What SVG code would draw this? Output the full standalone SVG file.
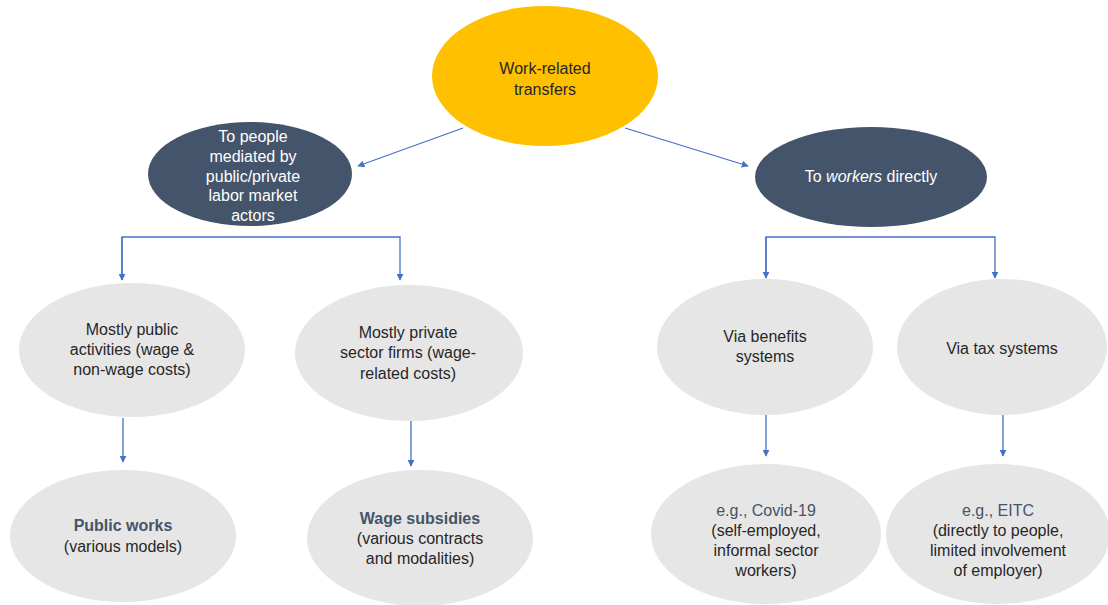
<svg xmlns="http://www.w3.org/2000/svg" width="1108" height="605" viewBox="0 0 1108 605">
<style>
.t{font-family:"Liberation Sans",Arial,sans-serif;font-size:16px;text-anchor:middle;fill:#262626}
.w{fill:#ffffff}
.b{font-weight:bold;fill:#44546A}
.s{fill:#44546A}
.g{fill:#E7E6E6}
.d{fill:#44546A}
.c{stroke:#4472C4;stroke-width:1.3;fill:none}
</style>
<defs>
<marker id="ah" viewBox="0 0 10 10" refX="9" refY="5" markerWidth="7" markerHeight="7" markerUnits="userSpaceOnUse" orient="auto">
<path d="M0,0 L10,5 L0,10 z" fill="#4472C4"/>
</marker>
</defs>
<rect width="1108" height="605" fill="#ffffff"/>
<g id="connectors">
<path class="c" d="M463,128 L358,166" marker-end="url(#ah)"/>
<path class="c" d="M625,128 L748,166" marker-end="url(#ah)"/>
<path class="c" d="M122,280 L122,237 L400,237 L400,280" marker-end="url(#ah)"/>
<path class="c" d="M122,237 L122,280" marker-end="url(#ah)"/>
<path class="c" d="M766,278 L766,237 L995,237 L995,278" marker-end="url(#ah)"/>
<path class="c" d="M766,237 L766,278" marker-end="url(#ah)"/>
<path class="c" d="M123,418 L123,462" marker-end="url(#ah)"/>
<path class="c" d="M411,421 L411,466" marker-end="url(#ah)"/>
<path class="c" d="M766,415 L766,456" marker-end="url(#ah)"/>
<path class="c" d="M1003,415 L1003,456" marker-end="url(#ah)"/>
</g>
<g id="root">
<ellipse cx="545" cy="76" rx="113" ry="70" fill="#FFC000"/>
<text class="t" x="545" y="74">Work-related</text>
<text class="t" x="545" y="95">transfers</text>
</g>
<g id="mediated">
<ellipse class="d" cx="250" cy="174" rx="102" ry="52"/>
<text class="t w" x="253" y="142">To people</text>
<text class="t w" x="253" y="162">mediated by</text>
<text class="t w" x="253" y="182">public/private</text>
<text class="t w" x="253" y="201">labor market</text>
<text class="t w" x="253" y="221">actors</text>
</g>
<g id="direct">
<ellipse class="d" cx="871" cy="177" rx="116" ry="50"/>
<text class="t w" x="871" y="182">To <tspan font-style="italic">workers</tspan> directly</text>
</g>
<g id="public">
<ellipse class="g" cx="132" cy="350" rx="113" ry="67"/>
<text class="t" x="132" y="335">Mostly public</text>
<text class="t" x="132" y="355">activities (wage &amp;</text>
<text class="t" x="132" y="375">non-wage costs)</text>
</g>
<g id="private">
<ellipse class="g" cx="409" cy="353" rx="114" ry="68"/>
<text class="t" x="408" y="338">Mostly private</text>
<text class="t" x="408" y="358">sector firms (wage-</text>
<text class="t" x="408" y="379">related costs)</text>
</g>
<g id="benefits">
<ellipse class="g" cx="765" cy="347" rx="108" ry="68"/>
<text class="t" x="765" y="342">Via benefits</text>
<text class="t" x="765" y="362">systems</text>
</g>
<g id="tax">
<ellipse class="g" cx="1002" cy="347" rx="105" ry="68"/>
<text class="t" x="1002" y="354">Via tax systems</text>
</g>
<g id="publicworks">
<ellipse class="g" cx="123" cy="536" rx="113" ry="66"/>
<text class="t b" x="123" y="531">Public works</text>
<text class="t" x="123" y="552">(various models)</text>
</g>
<g id="wagesubsidies">
<ellipse class="g" cx="420" cy="538" rx="113" ry="68"/>
<text class="t b" x="420" y="524">Wage subsidies</text>
<text class="t" x="420" y="544">(various contracts</text>
<text class="t" x="420" y="564">and modalities)</text>
</g>
<g id="covid">
<ellipse class="g" cx="766" cy="534" rx="115" ry="70"/>
<text class="t s" x="766" y="516">e.g., Covid-19</text>
<text class="t" x="766" y="536">(self-employed,</text>
<text class="t" x="766" y="556">informal sector</text>
<text class="t" x="766" y="576">workers)</text>
</g>
<g id="eitc">
<ellipse class="g" cx="998" cy="534" rx="112" ry="70"/>
<text class="t s" x="998" y="516">e.g., EITC</text>
<text class="t" x="998" y="536">(directly to people,</text>
<text class="t" x="998" y="556">limited involvement</text>
<text class="t" x="998" y="576">of employer)</text>
</g>
</svg>
